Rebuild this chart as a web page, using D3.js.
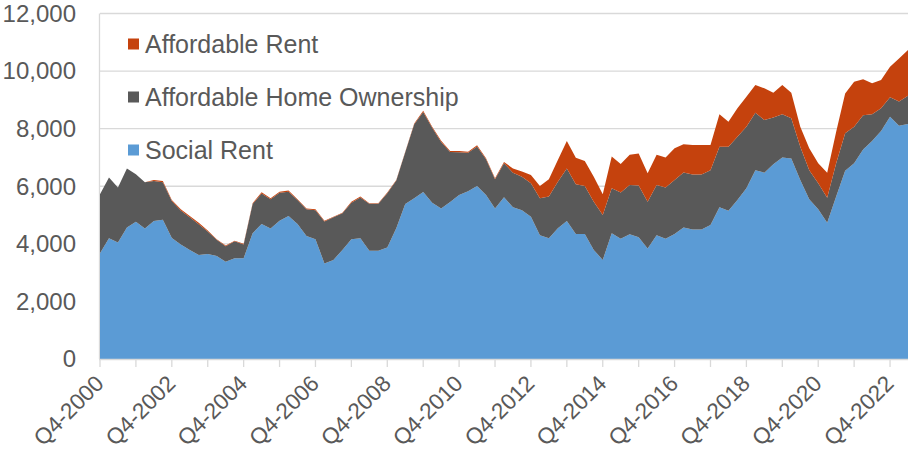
<!DOCTYPE html>
<html>
<head>
<meta charset="utf-8">
<script src="https://cdn.jsdelivr.net/npm/d3@7"></script>
<style>
  html, body { margin: 0; padding: 0; background: #fff; }
  svg { display: block; font-family: "Liberation Sans", Arial, Helvetica, sans-serif; }
</style>
</head>
<body>
<svg id="chart" width="913" height="456"></svg>
<script>
// ---- Data ----
const categories = [
  "Q4-2000",
  "Q1-2001","Q2-2001","Q3-2001","Q4-2001",
  "Q1-2002","Q2-2002","Q3-2002","Q4-2002",
  "Q1-2003","Q2-2003","Q3-2003","Q4-2003",
  "Q1-2004","Q2-2004","Q3-2004","Q4-2004",
  "Q1-2005","Q2-2005","Q3-2005","Q4-2005",
  "Q1-2006","Q2-2006","Q3-2006","Q4-2006",
  "Q1-2007","Q2-2007","Q3-2007","Q4-2007",
  "Q1-2008","Q2-2008","Q3-2008","Q4-2008",
  "Q1-2009","Q2-2009","Q3-2009","Q4-2009",
  "Q1-2010","Q2-2010","Q3-2010","Q4-2010",
  "Q1-2011","Q2-2011","Q3-2011","Q4-2011",
  "Q1-2012","Q2-2012","Q3-2012","Q4-2012",
  "Q1-2013","Q2-2013","Q3-2013","Q4-2013",
  "Q1-2014","Q2-2014","Q3-2014","Q4-2014",
  "Q1-2015","Q2-2015","Q3-2015","Q4-2015",
  "Q1-2016","Q2-2016","Q3-2016","Q4-2016",
  "Q1-2017","Q2-2017","Q3-2017","Q4-2017",
  "Q1-2018","Q2-2018","Q3-2018","Q4-2018",
  "Q1-2019","Q2-2019","Q3-2019","Q4-2019",
  "Q1-2020","Q2-2020","Q3-2020","Q4-2020",
  "Q1-2021","Q2-2021","Q3-2021","Q4-2021",
  "Q1-2022","Q2-2022","Q3-2022","Q4-2022",
  "Q1-2023","Q2-2023"
];

const socialRent = [
  3670, 4190, 4050, 4570, 4770, 4530, 4790, 4840, 4200, 3980,
  3790, 3610, 3650, 3580, 3380, 3500, 3500, 4370, 4690, 4530,
  4800, 4970, 4690, 4270, 4160, 3320, 3440, 3790, 4160, 4190,
  3760, 3760, 3870, 4540, 5380, 5580, 5800, 5430, 5230, 5450,
  5700, 5830, 6010, 5700, 5230, 5620, 5270, 5170, 4940, 4300,
  4190, 4540, 4790, 4340, 4340, 3790, 3440, 4370, 4180, 4330,
  4230, 3840, 4300, 4180, 4340, 4570, 4500, 4500, 4650, 5270,
  5150, 5520, 5930, 6560, 6470, 6760, 7000, 6960, 6220, 5550,
  5200, 4730, 5640, 6540, 6800, 7280, 7570, 7920, 8410, 8100,
  8160
];

const affordableHomeOwnership = [
  2050, 2110, 1910, 2050, 1650, 1610, 1390, 1300, 1290, 1180,
  1130, 1070,  780,  560,  540,  590,  480, 1010, 1060, 1020,
   970,  840,  830,  930, 1010, 1460, 1480, 1270, 1270, 1420,
  1630, 1630, 1890, 1660, 1800, 2570, 2780, 2600, 2310, 1740,
  1480, 1330, 1370, 1240, 1010, 1180, 1200, 1160, 1160, 1280,
  1450, 1620, 1830, 1730, 1670, 1670, 1560, 1560, 1600, 1710,
  1800, 1620, 1740, 1780, 1880, 1910, 1910, 1910, 1910, 2100,
  2220, 2200, 2140, 1990, 1830, 1630, 1500, 1400, 1150, 1010,
   900,  870, 1160, 1300, 1270, 1190,  930,  790,  680,  840,
   980
];

const affordableRent = [
     0,    0,    0,    0,    0,    0,   40,   40,   30,   40,
    50,   50,   30,   20,   20,   20,   20,   30,   40,   30,
    40,   40,   30,   30,   30,   20,   20,   20,   30,   30,
    20,   20,   20,   20,   20,   30,   40,   40,   40,   30,
    40,   40,   40,   30,   40,   40,  150,  180,  290,  430,
   600,  750,  950,  920,  870,  870,  720, 1100,  990, 1050,
  1110,  990, 1050, 1040, 1100,  980, 1020, 1020,  870, 1130,
   870,  990, 1040,  970, 1100,  860, 1020,  890,  700,  760,
   700,  870, 1090, 1380, 1560, 1250, 1080,  980, 1060, 1500,
  1590
];

const seriesNames = ["Social Rent", "Affordable Home Ownership", "Affordable Rent"];
const seriesColors = ["#5B9BD5", "#595959", "#C5420D"];
const xTickLabels = ["Q4-2000","Q4-2002","Q4-2004","Q4-2006","Q4-2008","Q4-2010",
                     "Q4-2012","Q4-2014","Q4-2016","Q4-2018","Q4-2020","Q4-2022"];
const yTicks = [0, 2000, 4000, 6000, 8000, 10000, 12000];

// ---- Build table ----
const keys = ["social", "aho", "ar"];
const rows = categories.map((c, i) => ({
  cat: c,
  social: socialRent[i],
  aho: affordableHomeOwnership[i],
  ar: affordableRent[i]
}));

const svg = d3.select("#chart");
const pL = 100, pR = 908, pT = 13.5, pB = 359;
const textColor = "#595959";
const gridColor = "#D9D9D9";

const x = d3.scalePoint().domain(categories).range([pL, pR]).padding(0);
const y = d3.scaleLinear().domain([0, 12000]).range([pB, pT]);

// gridlines
svg.append("g").selectAll("line").data(yTicks.filter(d => d > 0)).join("line")
  .attr("x1", pL).attr("x2", pR)
  .attr("y1", d => y(d)).attr("y2", d => y(d))
  .attr("stroke", gridColor).attr("stroke-width", 1.3);

// left axis line
svg.append("line").attr("x1", pL - 0.5).attr("x2", pL - 0.5)
  .attr("y1", pT).attr("y2", pB).attr("stroke", gridColor).attr("stroke-width", 1.3);

// stacked areas
const stack = d3.stack().keys(keys);
const layers = stack(rows);
const area = d3.area()
  .x(d => x(d.data.cat))
  .y0(d => y(d[0]))
  .y1(d => y(d[1]));

svg.append("g").selectAll("path").data(layers).join("path")
  .attr("d", area)
  .attr("fill", (d, i) => seriesColors[i]);

// bottom axis line and ticks
svg.append("line").attr("x1", pL - 1).attr("x2", pR)
  .attr("y1", pB + 0.5).attr("y2", pB + 0.5)
  .attr("stroke", gridColor).attr("stroke-width", 1.3);

const tickCats = categories.filter(c => c.startsWith("Q4"));
svg.append("g").selectAll("line").data(tickCats).join("line")
  .attr("x1", d => x(d)).attr("x2", d => x(d))
  .attr("y1", pB).attr("y2", pB + 8)
  .attr("stroke", gridColor).attr("stroke-width", 1.3);

// y labels
svg.append("g").selectAll("text").data(yTicks).join("text")
  .attr("x", 76).attr("y", d => y(d))
  .attr("dy", "0.35em")
  .attr("text-anchor", "end")
  .attr("fill", textColor)
  .attr("font-size", 24)
  .text(d => d3.format(",")(d));

// x labels
svg.append("g").selectAll("text").data(xTickLabels).join("text")
  .attr("transform", d => `translate(${x(d) + 5},${pB + 26}) rotate(-45)`)
  .attr("text-anchor", "end")
  .attr("fill", textColor)
  .attr("font-size", 22.5)
  .text(d => d);

// legend
const legendOrder = [2, 1, 0];
const legendY = [44, 97, 150];
const lg = svg.append("g");
legendOrder.forEach((si, k) => {
  lg.append("rect").attr("x", 128).attr("y", legendY[k] - 5.5)
    .attr("width", 11).attr("height", 11).attr("fill", seriesColors[si]);
  lg.append("text").attr("x", 145).attr("y", legendY[k]).attr("dy", "0.35em")
    .attr("fill", textColor).attr("font-size", 25).text(seriesNames[si]);
});
</script>
</body>
</html>
